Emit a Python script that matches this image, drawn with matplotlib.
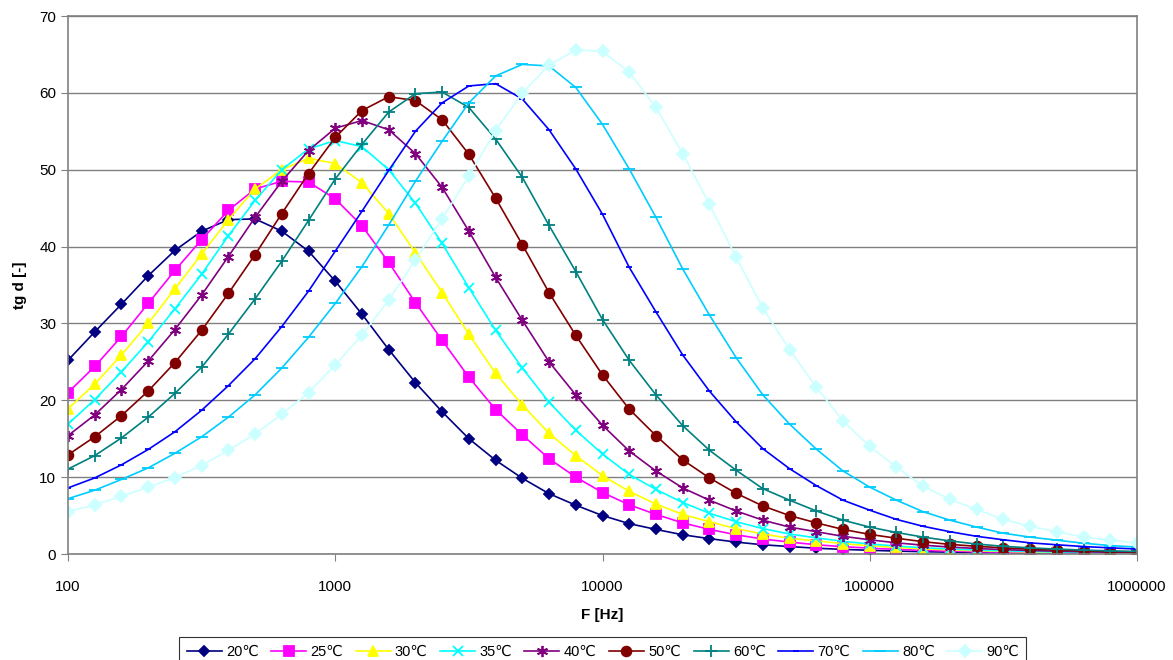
import numpy as np
import matplotlib
matplotlib.use("Agg")
import matplotlib.pyplot as plt

plt.rcParams['font.family'] = ['Liberation Sans', 'DejaVu Sans']

# frequency grid: 10 points per decade, 100 Hz .. 1 MHz
freq_exp = [2.0 + 0.1 * i for i in range(41)]
freq = [10 ** e for e in freq_exp]

labels = ['20℃', '25℃', '30℃', '35℃', '40℃', '50℃', '60℃', '70℃', '80℃', '90℃']

t20 = [25.2, 28.9, 32.5, 36.2, 39.5, 42.0, 43.5, 43.6, 42.0, 39.4, 35.5,
       31.2, 26.6, 22.3, 18.5, 15.0, 12.2, 9.85, 7.85, 6.35, 5.0,
       3.95, 3.2, 2.5, 2.0, 1.55, 1.2, 0.97, 0.75, 0.6, 0.48,
       0.38, 0.3, 0.24, 0.19, 0.15, 0.12, 0.1, 0.08, 0.06, 0.05]
t25 = [21.0, 24.4, 28.3, 32.6, 36.9, 40.9, 44.7, 47.5, 48.5, 48.4, 46.2,
       42.7, 37.95, 32.7, 27.8, 23.0, 18.8, 15.5, 12.4, 10.0, 8.0,
       6.4, 5.15, 4.05, 3.2, 2.5, 1.95, 1.55, 1.2, 0.95, 0.76,
       0.6, 0.48, 0.38, 0.3, 0.24, 0.19, 0.15, 0.12, 0.095, 0.075]
t30 = [18.9, 22.1, 25.9, 30.0, 34.5, 39.0, 43.5, 47.5, 50.0, 51.5, 50.8,
       48.3, 44.3, 39.2, 34.0, 28.6, 23.5, 19.4, 15.7, 12.8, 10.2,
       8.15, 6.5, 5.15, 4.2, 3.3, 2.6, 2.05, 1.7, 1.35, 1.07,
       0.85, 0.67, 0.53, 0.42, 0.34, 0.27, 0.21, 0.17, 0.14, 0.11]
t35 = [16.9, 20.1, 23.7, 27.6, 31.9, 36.4, 41.4, 46.0, 50.0, 52.7, 53.8,
       53.0, 50.0, 45.65, 40.4, 34.65, 29.1, 24.2, 19.75, 16.1, 13.0,
       10.35, 8.4, 6.7, 5.3, 4.2, 3.3, 2.6, 2.1, 1.65, 1.3,
       1.03, 0.82, 0.65, 0.52, 0.41, 0.33, 0.26, 0.21, 0.17, 0.13]
t40 = [15.4, 18.1, 21.4, 25.1, 29.2, 33.7, 38.7, 43.8, 48.5, 52.5, 55.4,
       56.4, 55.2, 52.1, 47.7, 42.0, 36.0, 30.4, 25.0, 20.7, 16.75,
       13.4, 10.8, 8.6, 7.0, 5.6, 4.4, 3.5, 2.9, 2.3, 1.85,
       1.45, 1.15, 0.9, 0.72, 0.57, 0.45, 0.36, 0.29, 0.23, 0.18]
t50 = [12.9, 15.25, 18.0, 21.2, 24.9, 29.1, 33.9, 38.95, 44.3, 49.5, 54.2,
       57.7, 59.5, 59.0, 56.5, 52.0, 46.3, 40.25, 34.0, 28.45, 23.3,
       18.85, 15.4, 12.25, 9.9, 7.9, 6.25, 5.0, 4.05, 3.2, 2.55,
       2.05, 1.6, 1.25, 1.0, 0.8, 0.63, 0.5, 0.4, 0.32, 0.25]
t60 = [11.05, 12.8, 15.1, 17.8, 20.9, 24.3, 28.6, 33.2, 38.1, 43.4, 48.8,
       53.3, 57.5, 59.9, 60.1, 58.1, 54.0, 49.0, 42.75, 36.75, 30.5,
       25.2, 20.7, 16.7, 13.5, 10.9, 8.5, 7.0, 5.6, 4.4, 3.5,
       2.8, 2.2, 1.7, 1.3, 1.0, 0.8, 0.64, 0.51, 0.41, 0.33]
t70 = [8.6, 9.9, 11.6, 13.6, 15.9, 18.7, 21.9, 25.4, 29.6, 34.2, 39.4,
       44.6, 49.9, 55.0, 58.7, 60.9, 61.2, 59.2, 55.2, 50.1, 44.2,
       37.3, 31.5, 25.9, 21.2, 17.2, 13.7, 11.1, 8.9, 7.0, 5.7,
       4.5, 3.6, 2.9, 2.3, 1.85, 1.45, 1.2, 0.97, 0.8, 0.65]
t80 = [7.2, 8.3, 9.7, 11.2, 13.1, 15.25, 17.8, 20.7, 24.2, 28.2, 32.6,
       37.4, 42.8, 48.5, 53.7, 58.7, 62.2, 63.7, 63.5, 60.7, 55.9,
       50.1, 43.8, 37.1, 31.1, 25.55, 20.7, 16.9, 13.65, 10.8, 8.7,
       7.0, 5.5, 4.4, 3.5, 2.7, 2.2, 1.8, 1.4, 1.1, 0.9]
t90 = [5.5, 6.4, 7.5, 8.7, 9.95, 11.5, 13.5, 15.6, 18.2, 21.0, 24.6,
       28.5, 33.0, 38.3, 43.6, 49.2, 55.1, 60.0, 63.6, 65.6, 65.4,
       62.7, 58.1, 52.1, 45.5, 38.6, 32.0, 26.6, 21.7, 17.3, 14.0,
       11.3, 8.8, 7.1, 5.8, 4.5, 3.6, 2.9, 2.2, 1.8, 1.45]

series = [t20, t25, t30, t35, t40, t50, t60, t70, t80, t90]
colors = ['#000080', '#FF00FF', '#FFFF00', '#00FFFF', '#800080',
          '#800000', '#008080', '#0000FF', '#00CCFF', '#CCFFFF']
markers = ['D', 's', '^', 'x', (6, 2, 0), 'o', '+', '_', '_', 'D']
msizes = [5.5, 7, 7, 7, 8, 7, 8, 5, 8, 6.5]

fig = plt.figure(figsize=(11.73, 6.6), dpi=100)
ax = fig.add_axes([68 / 1173, 106 / 660, 1069 / 1173, 538 / 660])

for ys, lab, c, m, ms in zip(series, labels, colors, markers, msizes):
    ax.plot(freq, ys, color=c, marker=m, markersize=ms, markeredgewidth=1.3,
            linewidth=1.2, label=lab)

ax.set_xscale('log')
ax.set_xlim(100, 1e6)
ax.set_ylim(0, 70)
ax.set_xticks([100, 1000, 10000, 100000, 1000000])
ax.set_xticklabels(['100', '1000', '10000', '100000', '1000000'])
ax.xaxis.set_minor_locator(matplotlib.ticker.NullLocator())
ax.set_yticks(range(0, 71, 10))
ax.yaxis.grid(True, color='#808080', linewidth=1)
ax.set_axisbelow(True)
ax.tick_params(axis='both', labelsize=11, length=5, color='#808080',
               direction='out')
ax.tick_params(axis='x', pad=14)
for side in ['top', 'right', 'left', 'bottom']:
    ax.spines[side].set_color('#808080')
    ax.spines[side].set_linewidth(1.2)

ax.set_xlabel('F [Hz]', fontsize=11, fontweight='bold', labelpad=10)
ax.set_ylabel('tg d [-]', fontsize=11, fontweight='bold', labelpad=9)

leg = fig.legend(loc='lower center', bbox_to_anchor=(0.514, -0.02), ncol=10,
                 fontsize=10.5, frameon=True, fancybox=False, handlelength=2.4,
                 columnspacing=0.85, handletextpad=0.3, borderpad=0.5)
leg.get_frame().set_edgecolor('#000000')
leg.get_frame().set_linewidth(0.8)

fig.savefig('out.png', dpi=100)
